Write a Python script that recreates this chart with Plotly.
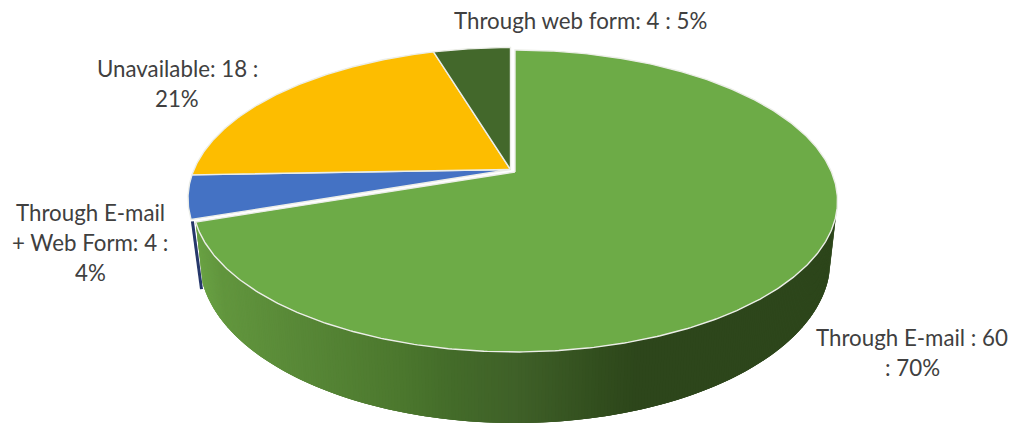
import numpy as np
import plotly.graph_objects as go

categories = ["Through E-mail", "Through E-mail + Web Form", "Unavailable", "Through web form"]
values = [60, 4, 18, 4]
colors = ["#6DAB47", "#4472C4", "#FDBD00", "#43682B"]

label_lines = ["Through web form: 4 : 5%", "Unavailable: 18 :", "21%", "Through E-mail",
               "+ Web Form: 4 :", "4%", "Through E-mail : 60", ": 70%"]
label_x = [580, 177, 177, 90, 90, 90, 912, 912]
label_y = [20.5, 68.5, 98.5, 212.5, 242.5, 272.5, 337.5, 367.5]

# projection of the pie disc onto the picture (pixel-valued axes)
CX, CY, B, A, K = 510.5, 169.5, 316.5, 145.4, 0.192
offsets = [(4.5, 2.5), (0, 0), (0, 0), (0, 0)]


def rim(angle_deg, dx=0.0, dy=0.0):
    t = np.radians(angle_deg)
    X, Y = np.sin(t), -np.cos(t)
    w = 1 - K * Y
    return CX + dx + B * X / w, CY + dy + A * Y / w


def lower(x, y):
    return 514 + 0.978 * (x - 514), 172 + 1.078 * (y - 172) + 57


shade_x = [195, 220, 300, 400, 450, 520, 600, 640, 840]
shade_r = [106, 98, 88, 76, 68, 63, 50, 45, 45]
shade_g = [162, 150, 136, 120, 108, 96, 78, 70, 70]
shade_b = [68, 62, 55, 46, 42, 40, 30, 27, 27]

total = sum(values)
edges = np.concatenate([[0], np.cumsum(values) / total * 360])

fig = go.Figure()

# dark sliver: side of the blue slice
bx, by = rim(edges[1] - 0.3)
lx, ly = lower(bx, by)
fig.add_trace(go.Scatter(x=[bx + 1, lx + 3], y=[by + 1, ly + 8], mode="lines",
                         line=dict(color="#26386B", width=3), hoverinfo="skip"))

# side wall of the green slice: each band runs under the next one, so no seams show
dx, dy = offsets[0]
steps = np.arange(106.0, edges[1], 0.5).tolist() + [edges[1]]
for j, (a0, a1) in enumerate(zip(steps[:-1], steps[1:])):
    a_end = steps[min(j + 3, len(steps) - 1)]
    arc = np.linspace(a0, a_end, 4)
    tx, ty = rim(arc, dx, dy)
    bx2, by2 = lower(tx, ty)
    m = float(rim((a0 + a1) / 2, dx, dy)[0])
    c = "rgb(%d,%d,%d)" % (np.interp(m, shade_x, shade_r),
                           np.interp(m, shade_x, shade_g),
                           np.interp(m, shade_x, shade_b))
    xs = tx.tolist() + bx2[::-1].tolist() + [tx[0]]
    ys = ty.tolist() + by2[::-1].tolist() + [ty[0]]
    fig.add_trace(go.Scatter(x=xs, y=ys, mode="lines", fill="toself", fillcolor=c,
                             line=dict(width=0), hoverinfo="skip"))

# top faces
for i, name in enumerate(categories):
    dx, dy = offsets[i]
    ang = np.linspace(edges[i], edges[i + 1], max(int(values[i] * 8), 30))
    px, py = rim(ang, dx, dy)
    xs = [CX + dx] + px.tolist() + [CX + dx]
    ys = [CY + dy] + py.tolist() + [CY + dy]
    fig.add_trace(go.Scatter(x=xs, y=ys, mode="lines", fill="toself", fillcolor=colors[i],
                             line=dict(color="#ECEEE8", width=1.4), name=name, hoverinfo="name"))

for t, x, y in zip(label_lines, label_x, label_y):
    fig.add_annotation(x=x, y=y, text=t, showarrow=False, xanchor="center", yanchor="middle",
                       font=dict(family="Lato", size=22.3, color="#404040"))

fig.update_layout(
    width=1020, height=423, margin=dict(l=0, r=0, t=0, b=0),
    paper_bgcolor="white", plot_bgcolor="white", showlegend=False,
    xaxis=dict(range=[0, 1020], visible=False, fixedrange=True),
    yaxis=dict(range=[423, 0], visible=False, fixedrange=True),
)
fig.write_html("out.html", config={"displayModeBar": False},
               post_script="document.body.style.margin='0';document.body.style.overflow='hidden';")
